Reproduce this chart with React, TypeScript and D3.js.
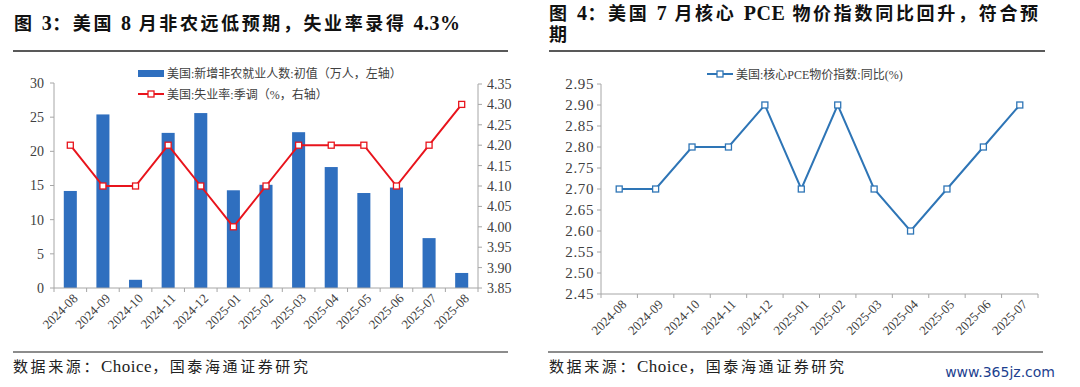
import * as d3 from 'd3';

// ---- Fig 3 data ----
const months3 = ['2024-08', '2024-09', '2024-10', '2024-11', '2024-12', '2025-01', '2025-02', '2025-03', '2025-04', '2025-05', '2025-06', '2025-07', '2025-08'];
const payrolls = [14.2, 25.4, 1.2, 22.7, 25.6, 14.3, 15.1, 22.8, 17.7, 13.9, 14.7, 7.3, 2.2];
const unemp = [4.2, 4.1, 4.1, 4.2, 4.1, 4.0, 4.1, 4.2, 4.2, 4.2, 4.1, 4.2, 4.3];
const leftTicks = [0, 5, 10, 15, 20, 25, 30];
const rightTicks = [3.85, 3.9, 3.95, 4.0, 4.05, 4.1, 4.15, 4.2, 4.25, 4.3, 4.35];

// ---- Fig 4 data ----
const months4 = ['2024-08', '2024-09', '2024-10', '2024-11', '2024-12', '2025-01', '2025-02', '2025-03', '2025-04', '2025-05', '2025-06', '2025-07'];
const corePce = [2.7, 2.7, 2.8, 2.8, 2.9, 2.7, 2.9, 2.7, 2.6, 2.7, 2.8, 2.9];
const pceTicks = [2.45, 2.5, 2.55, 2.6, 2.65, 2.7, 2.75, 2.8, 2.85, 2.9, 2.95];

const SERIF = '"Liberation Serif", "Times New Roman", "Noto Sans CJK SC", serif';
const AXIS = '#a6a6a6';
const LABEL = '#404040';
const BAR = '#2f6fbf';
const RED = '#e8141c';
const BLUE = '#2e75b6';

// spaced CJK, latin runs a bit larger and tight
function Mixed({ text, spacing, latinSize }: { text: string; spacing: number; latinSize: number }) {
  const parts = text.match(/[A-Za-z0-9.%]+|[^A-Za-z0-9.%]+/g) ?? [];
  return (
    <>
      {parts.map((p, i) => /[A-Za-z0-9]/.test(p)
        ? <tspan key={i} letterSpacing={0.5} fontSize={latinSize}>{p}</tspan>
        : <tspan key={i} letterSpacing={spacing}>{p}</tspan>)}
    </>
  );
}

function XLabels({ names, pos, y }: { names: string[]; pos: (d: string) => number; y: number }) {
  return (
    <g fontSize={13} fill={LABEL} fontFamily={SERIF}>
      {names.map(m => (
        <text key={m} textAnchor="end" dy="0.35em"
          transform={`translate(${pos(m) + 5},${y + 8}) rotate(-45)`}>{m}</text>
      ))}
    </g>
  );
}

function PayrollChart() {
  const x = d3.scaleBand().domain(months3).range([54, 478]).paddingInner(0.6).paddingOuter(0.3);
  const yL = d3.scaleLinear().domain([0, 30]).range([288, 83]);
  const yR = d3.scaleLinear().domain([3.85, 4.35]).range([288, 84]);
  const step = x.step();
  const cx = (m: string) => (x(m) ?? 0) + x.bandwidth() / 2;
  const bounds = months3.map(m => cx(m) - step / 2).concat([cx(months3[months3.length - 1]) + step / 2]);
  const line = d3.line<number>().x((_, i) => cx(months3[i])).y(d => yR(d));
  return (
    <g>
      {payrolls.map((v, i) => (
        <rect key={i} x={x(months3[i])} y={yL(v)} width={x.bandwidth()} height={yL(0) - yL(v)} fill={BAR} />
      ))}
      {/* left axis */}
      <line x1={54} x2={54} y1={yL(30)} y2={yL(0)} stroke={AXIS} />
      {leftTicks.map(t => (
        <g key={t}>
          <line x1={50} x2={54} y1={yL(t)} y2={yL(t)} stroke={AXIS} />
          <text x={44} y={yL(t)} dy="0.35em" textAnchor="end" fontSize={14} fill={LABEL} fontFamily={SERIF}>{t}</text>
        </g>
      ))}
      {/* right axis */}
      <line x1={478} x2={478} y1={yR(4.35)} y2={yR(3.85)} stroke={AXIS} />
      {rightTicks.map(t => (
        <g key={t}>
          <line x1={478} x2={482} y1={yR(t)} y2={yR(t)} stroke={AXIS} />
          <text x={487} y={yR(t)} dy="0.35em" fontSize={14} fill={LABEL} fontFamily={SERIF}>{t.toFixed(2)}</text>
        </g>
      ))}
      {/* x axis */}
      <line x1={54} x2={478} y1={yL(0)} y2={yL(0)} stroke={AXIS} />
      {bounds.map((b, i) => <line key={i} x1={b} x2={b} y1={yL(0)} y2={yL(0) + 4} stroke={AXIS} />)}
      <XLabels names={months3} pos={cx} y={yL(0)} />
      {/* unemployment */}
      <path d={line(unemp) ?? ''} fill="none" stroke={RED} strokeWidth={2} />
      {unemp.map((v, i) => (
        <rect key={i} x={cx(months3[i]) - 3} y={yR(v) - 3} width={6} height={6} fill="#fff" stroke={RED} strokeWidth={1.3} />
      ))}
      {/* legend */}
      <g fontSize={12} fill={LABEL} fontFamily={SERIF}>
        <rect x={138} y={70} width={26} height={7} fill={BAR} />
        <text x={167} y={73.5} dy="0.35em">美国:新增非农就业人数:初值（万人，左轴）</text>
        <line x1={138} x2={164} y1={94} y2={94} stroke={RED} strokeWidth={2} />
        <rect x={148} y={91} width={6} height={6} fill="#fff" stroke={RED} strokeWidth={1.3} />
        <text x={167} y={94.5} dy="0.35em">美国:失业率:季调（%，右轴）</text>
      </g>
    </g>
  );
}

function PceChart() {
  const x = d3.scalePoint().domain(months4).range([601, 1038]).padding(0.5);
  const y = d3.scaleLinear().domain([2.45, 2.95]).range([294, 84]);
  const step = x.step();
  const px = (m: string) => x(m) ?? 0;
  const bounds = months4.map(m => px(m) - step / 2).concat([px(months4[months4.length - 1]) + step / 2]);
  const line = d3.line<number>().x((_, i) => px(months4[i])).y(d => y(d));
  return (
    <g>
      <line x1={601} x2={601} y1={y(2.95)} y2={y(2.45)} stroke={AXIS} />
      {pceTicks.map(t => (
        <g key={t}>
          <line x1={597} x2={601} y1={y(t)} y2={y(t)} stroke={AXIS} />
          <text x={594} y={y(t)} dy="0.35em" textAnchor="end" fontSize={15} letterSpacing={0.6} fill={LABEL} fontFamily={SERIF}>{t.toFixed(2)}</text>
        </g>
      ))}
      <line x1={601} x2={1038} y1={y(2.45)} y2={y(2.45)} stroke={AXIS} />
      {bounds.map((b, i) => <line key={i} x1={b} x2={b} y1={y(2.45)} y2={y(2.45) + 4} stroke={AXIS} />)}
      <XLabels names={months4} pos={px} y={y(2.45)} />
      <path d={line(corePce) ?? ''} fill="none" stroke={BLUE} strokeWidth={2} />
      {corePce.map((v, i) => (
        <rect key={i} x={px(months4[i]) - 3} y={y(v) - 3} width={6} height={6} fill="#fff" stroke={BLUE} strokeWidth={1.3} />
      ))}
      <g fontSize={12} fill={LABEL} fontFamily={SERIF}>
        <line x1={707} x2={733} y1={74} y2={74} stroke={BLUE} strokeWidth={2} />
        <rect x={717} y={71} width={6} height={6} fill="#fff" stroke={BLUE} strokeWidth={1.3} />
        <text x={736} y={74.5} dy="0.35em">美国:核心PCE物价指数:同比(%)</text>
      </g>
    </g>
  );
}

export default function App() {
  const titleStyle = { fontFamily: SERIF, fontWeight: 700, fontSize: 18, fill: '#111' };
  const srcStyle = { fontFamily: SERIF, fontSize: 15, fill: '#222' };
  return (
    <svg width={1080} height={387} style={{ position: 'absolute', left: 0, top: 0, background: '#fff' }}>
      <rect width={1080} height={387} fill="#fff" />
      {/* titles */}
      <text x={14} y={30} style={titleStyle}><Mixed text="图 3：美国 8 月非农远低预期，失业率录得 4.3%" spacing={2.6} latinSize={20} /></text>
      <text x={549} y={20} style={titleStyle}><Mixed text="图 4：美国 7 月核心 PCE 物价指数同比回升，符合预" spacing={2.7} latinSize={20} /></text>
      <text x={549} y={41} style={titleStyle}>期</text>
      <line x1={13} x2={508} y1={51} y2={51} stroke="#222" strokeWidth={1.5} />
      <line x1={549} x2={1045} y1={51} y2={51} stroke="#222" strokeWidth={1.5} />

      <PayrollChart />
      <PceChart />

      {/* sources */}
      <line x1={13} x2={508} y1={352} y2={352} stroke="#666" strokeWidth={1.5} />
      <line x1={548} x2={1043} y1={352} y2={352} stroke="#666" strokeWidth={1.5} />
      <text x={13} y={372} style={srcStyle}><Mixed text="数据来源：Choice，国泰海通证券研究" spacing={2.6} latinSize={17} /></text>
      <text x={549} y={372} style={srcStyle}><Mixed text="数据来源：Choice，国泰海通证券研究" spacing={2.6} latinSize={17} /></text>
      <text x={1055} y={377} textAnchor="end" fontSize={14} fontFamily='"DejaVu Sans", sans-serif' fill="#1d3f8f">www.365jz.com</text>
    </svg>
  );
}
